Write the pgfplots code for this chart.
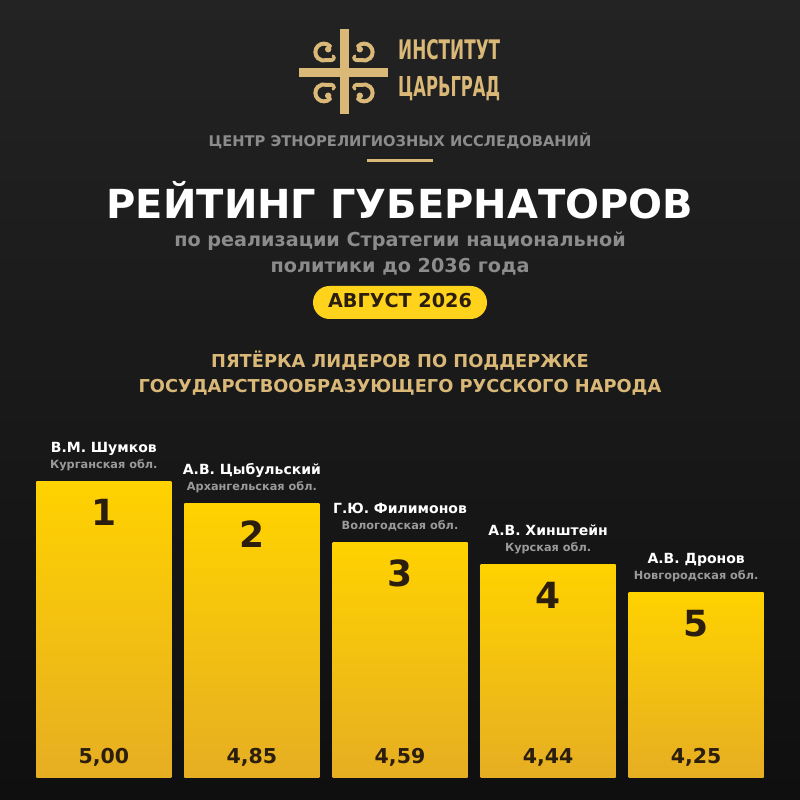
\documentclass[border=0pt]{standalone}
\usepackage{fontspec}
\setmainfont{DejaVu Sans}
\usepackage{graphicx}
\usepackage{pgfplots}
\pgfplotsset{compat=1.18}
\definecolor{bgtop}{HTML}{232323}
\definecolor{bgbot}{HTML}{0F0F0F}
\definecolor{gold}{HTML}{D9B878}
\definecolor{graytxt}{HTML}{8C8C8C}
\definecolor{regtxt}{HTML}{9A9A9A}
\definecolor{barTop}{HTML}{FFD200}
\definecolor{barBot}{HTML}{E6AE22}
\definecolor{pill}{HTML}{FFD21C}
\definecolor{darktxt}{HTML}{2B1E0E}
\newcommand{\orn}{%
  \draw[gold, line width=4pt, line cap=round] (-14.1,26.4) arc[start angle=45, end angle=290, radius=8.5] -- (-12,12.5);
  \draw[gold, line width=3pt, line cap=round] (-12,12.5) arc[start angle=-90, end angle=60, radius=2.2];
  \fill[gold] (-15.8,23.2) circle (3.2);
}
\begin{document}
\begin{tikzpicture}[x=1pt,y=1pt]
\useasboundingbox (0,0) rectangle (800,800);
\shade[top color=bgtop, bottom color=bgbot] (0,0) rectangle (800,800);
% logo
\fill[gold] (339.5,686) rectangle (348.5,771);
\fill[gold] (299,723) rectangle (388,732);
\begin{scope}[shift={(344,727.5)}]
\orn
\begin{scope}[xscale=-1]\orn\end{scope}
\begin{scope}[yscale=-1]\orn\end{scope}
\begin{scope}[xscale=-1,yscale=-1]\orn\end{scope}
\end{scope}
\node[gold, anchor=base west, inner sep=0] at (398,740) {\resizebox{102pt}{20pt}{\bfseries ИНСТИТУТ}};
\node[gold, anchor=base west, inner sep=0] at (398,703) {\resizebox{102pt}{20pt}{\bfseries ЦАРЬГРАД}};
% headings
\node[graytxt, anchor=base, inner sep=0] at (400,653) {\fontsize{14.7}{17}\selectfont\bfseries ЦЕНТР ЭТНОРЕЛИГИОЗНЫХ ИССЛЕДОВАНИЙ};
\fill[gold] (367,637.5) rectangle (433,640.5);
\node[white, anchor=base, inner sep=0] at (400,581) {\fontsize{40}{46}\selectfont\bfseries РЕЙТИНГ ГУБЕРНАТОРОВ};
\node[graytxt, anchor=base, inner sep=0] at (400,553) {\fontsize{19.2}{22}\selectfont\bfseries по реализации Стратегии национальной};
\node[graytxt, anchor=base, inner sep=0] at (400,527) {\fontsize{19.2}{22}\selectfont\bfseries политики до 2036 года};
\fill[pill, rounded corners=16.5pt] (313,481) rectangle (487,514);
\node[darktxt, anchor=base, inner sep=0] at (400,492.5) {\fontsize{19.2}{22}\selectfont\bfseries АВГУСТ 2026};
\node[gold, anchor=base, inner sep=0] at (400,432) {\fontsize{17.8}{20}\selectfont\bfseries ПЯТЁРКА ЛИДЕРОВ ПО ПОДДЕРЖКЕ};
\node[gold, anchor=base, inner sep=0] at (400,407) {\fontsize{17.8}{20}\selectfont\bfseries ГОСУДАРСТВООБРАЗУЮЩЕГО РУССКОГО НАРОДА};
% bars
\begin{axis}[at={(0pt,23pt)}, anchor=south west, scale only axis,
  width=800pt, height=369pt,
  xmin=-0.701, xmax=4.701, ymin=3, ymax=5.5,
  axis lines=none, ticks=none, clip mode=individual]
\addplot[ybar, bar width=135pt, bar shift=0pt, draw=none, top color=barTop, bottom color=barBot] coordinates {(0,5.00)};
\addplot[ybar, bar width=135pt, bar shift=0pt, draw=none, top color=barTop, bottom color=barBot] coordinates {(1,4.85)};
\addplot[ybar, bar width=135pt, bar shift=0pt, draw=none, top color=barTop, bottom color=barBot] coordinates {(2,4.59)};
\addplot[ybar, bar width=135pt, bar shift=0pt, draw=none, top color=barTop, bottom color=barBot] coordinates {(3,4.44)};
\addplot[ybar, bar width=135pt, bar shift=0pt, draw=none, top color=barTop, bottom color=barBot] coordinates {(4,4.25)};
% labels
\node[white, anchor=base, inner sep=0, yshift=29pt] at (axis cs:0,5.00) {\fontsize{14}{16}\selectfont\bfseries В.М. Шумков};
\node[regtxt, anchor=base, inner sep=0, yshift=13pt] at (axis cs:0,5.00) {\fontsize{11.3}{13}\selectfont\bfseries Курганская обл.};
\node[white, anchor=base, inner sep=0, yshift=29pt] at (axis cs:1,4.85) {\fontsize{14}{16}\selectfont\bfseries А.В. Цыбульский};
\node[regtxt, anchor=base, inner sep=0, yshift=13pt] at (axis cs:1,4.85) {\fontsize{11.3}{13}\selectfont\bfseries Архангельская обл.};
\node[white, anchor=base, inner sep=0, yshift=29pt] at (axis cs:2,4.59) {\fontsize{14}{16}\selectfont\bfseries Г.Ю. Филимонов};
\node[regtxt, anchor=base, inner sep=0, yshift=13pt] at (axis cs:2,4.59) {\fontsize{11.3}{13}\selectfont\bfseries Вологодская обл.};
\node[white, anchor=base, inner sep=0, yshift=29pt] at (axis cs:3,4.44) {\fontsize{14}{16}\selectfont\bfseries А.В. Хинштейн};
\node[regtxt, anchor=base, inner sep=0, yshift=13pt] at (axis cs:3,4.44) {\fontsize{11.3}{13}\selectfont\bfseries Курская обл.};
\node[white, anchor=base, inner sep=0, yshift=29pt] at (axis cs:4,4.25) {\fontsize{14}{16}\selectfont\bfseries А.В. Дронов};
\node[regtxt, anchor=base, inner sep=0, yshift=13pt] at (axis cs:4,4.25) {\fontsize{11.3}{13}\selectfont\bfseries Новгородская обл.};
% ranks
\node[darktxt, anchor=base, inner sep=0, yshift=-44pt] at (axis cs:0,5.00) {\fontsize{36}{40}\selectfont\bfseries 1};
\node[darktxt, anchor=base, inner sep=0, yshift=-44pt] at (axis cs:1,4.85) {\fontsize{36}{40}\selectfont\bfseries 2};
\node[darktxt, anchor=base, inner sep=0, yshift=-44pt] at (axis cs:2,4.59) {\fontsize{36}{40}\selectfont\bfseries 3};
\node[darktxt, anchor=base, inner sep=0, yshift=-44pt] at (axis cs:3,4.44) {\fontsize{36}{40}\selectfont\bfseries 4};
\node[darktxt, anchor=base, inner sep=0, yshift=-44pt] at (axis cs:4,4.25) {\fontsize{36}{40}\selectfont\bfseries 5};
% values
\node[darktxt, anchor=base, inner sep=0, yshift=13pt] at (axis cs:0,3) {\fontsize{20.5}{24}\selectfont\bfseries 5,00};
\node[darktxt, anchor=base, inner sep=0, yshift=13pt] at (axis cs:1,3) {\fontsize{20.5}{24}\selectfont\bfseries 4,85};
\node[darktxt, anchor=base, inner sep=0, yshift=13pt] at (axis cs:2,3) {\fontsize{20.5}{24}\selectfont\bfseries 4,59};
\node[darktxt, anchor=base, inner sep=0, yshift=13pt] at (axis cs:3,3) {\fontsize{20.5}{24}\selectfont\bfseries 4,44};
\node[darktxt, anchor=base, inner sep=0, yshift=13pt] at (axis cs:4,3) {\fontsize{20.5}{24}\selectfont\bfseries 4,25};
\end{axis}
\end{tikzpicture}
\end{document}
